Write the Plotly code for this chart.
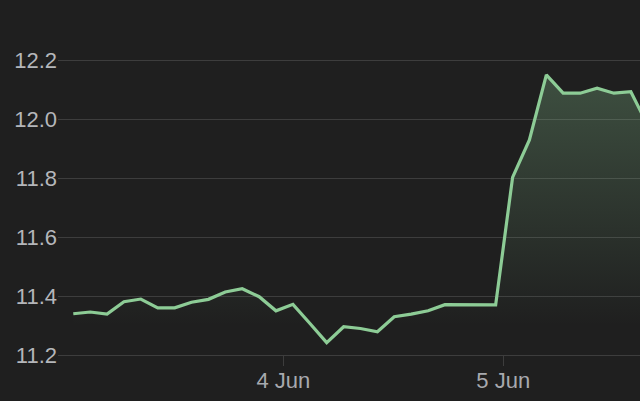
import plotly.graph_objects as go

times = [
    "2024-06-03 01:05", "2024-06-03 02:56", "2024-06-03 04:46", "2024-06-03 06:37",
    "2024-06-03 08:27", "2024-06-03 10:18", "2024-06-03 12:09", "2024-06-03 13:59",
    "2024-06-03 15:50", "2024-06-03 17:40", "2024-06-03 19:31", "2024-06-03 21:22",
    "2024-06-03 23:12", "2024-06-04 01:03", "2024-06-04 02:53", "2024-06-04 04:44",
    "2024-06-04 06:35", "2024-06-04 08:25", "2024-06-04 10:16", "2024-06-04 12:06",
    "2024-06-04 13:57", "2024-06-04 15:48", "2024-06-04 17:38", "2024-06-04 19:29",
    "2024-06-04 21:19", "2024-06-04 23:10", "2024-06-05 01:01", "2024-06-05 02:51",
    "2024-06-05 04:42", "2024-06-05 06:32", "2024-06-05 08:23", "2024-06-05 10:14",
    "2024-06-05 12:04", "2024-06-05 13:55", "2024-06-05 15:45",
]
values = [
    11.340, 11.346, 11.339, 11.381, 11.390, 11.360, 11.360, 11.379,
    11.389, 11.414, 11.425, 11.398, 11.350, 11.372, 11.308, 11.242,
    11.296, 11.290, 11.279, 11.330, 11.339, 11.350, 11.371, 11.370,
    11.370, 11.370, 11.803, 11.930, 12.151, 12.089, 12.089, 12.106,
    12.089, 12.094, 11.980,
]
x_tick_vals = ["2024-06-04", "2024-06-05"]
x_tick_text = ["4 Jun", "5 Jun"]
y_tick_vals = [11.2, 11.4, 11.6, 11.8, 12.0, 12.2]
y_tick_text = ["11.2", "11.4", "11.6", "11.8", "12.0", "12.2"]

BG = "#1f1f1f"
GRID = "#3d3d3d"
LINE = "rgb(141,204,150)"
FONT = "Liberation Sans, Arial, sans-serif"

fig = go.Figure()
fig.add_trace(go.Scatter(
    x=times, y=values, mode="lines",
    line=dict(color=LINE, width=3.2),
    fill="tozeroy",
    fillgradient=dict(
        type="vertical", start=11.3, stop=12.15,
        colorscale=[[0, "rgba(141,204,150,0)"], [1, "rgba(141,204,150,0.28)"]],
    ),
    hoverinfo="skip",
))

fig.update_layout(
    width=640, height=401,
    paper_bgcolor=BG, plot_bgcolor=BG,
    margin=dict(l=58, r=0, t=0, b=46),
    showlegend=False,
    font=dict(family=FONT, size=22, color="#b4b6ba"),
    xaxis=dict(
        range=["2024-06-02 23:25", "2024-06-05 14:55"],
        tickvals=x_tick_vals, ticktext=x_tick_text,
        showgrid=False, zeroline=False,
        showline=True, linecolor=GRID, linewidth=1,
        ticks="outside", ticklen=10, tickcolor=GRID, tickwidth=1,
        ticklabelstandoff=-4,
        tickfont=dict(color="#a7a9ae", size=22),
    ),
    yaxis=dict(
        range=[11.2, 12.4054],
        tickvals=y_tick_vals, ticktext=y_tick_text,
        showgrid=True, gridcolor=GRID, gridwidth=1,
        zeroline=False, showline=False, ticks="",
        tickfont=dict(color="#b4b6ba", size=22),
    ),
)

fig.write_html(
    "out.html",
    config={"displayModeBar": False},
    post_script="document.body.style.margin='0';document.body.style.background='#1f1f1f';",
)
